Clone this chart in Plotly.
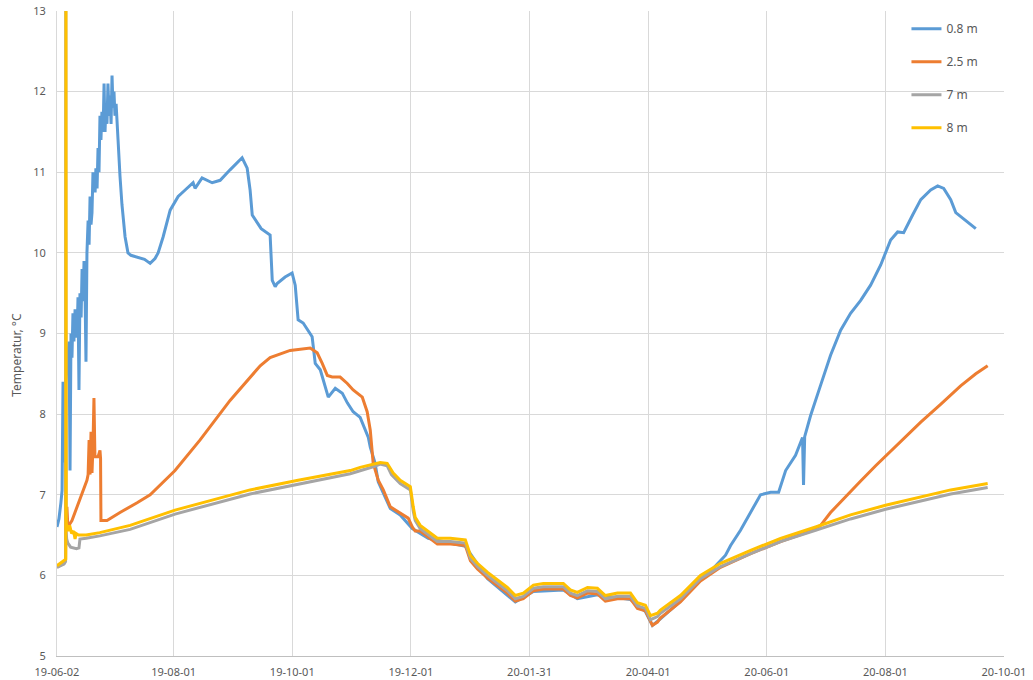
import pandas as pd
import plotly.graph_objects as go

START = pd.Timestamp("2019-06-02")

# ---- data (days since 2019-06-02, temperature in °C) ----
blue_days = [0, 1.0, 2.0, 2.6, 3.1, 3.4, 4.1, 5.1, 6.2, 6.7, 7.2, 7.7, 8.2, 8.7, 9.3, 10.3, 10.8, 11.3,
             11.8, 12.4, 12.9, 13.4, 13.9, 14.4, 14.9, 15.4, 16.0, 16.5, 17.0, 17.5, 18.0, 18.5, 19.6,
             20.0, 20.6, 21.1, 21.6, 22.1, 22.6, 23.1, 23.7, 24.2, 24.7, 25.2, 25.7, 26.2, 26.8, 27.3,
             27.8, 28.3, 28.8, 29.3, 29.8, 30.4, 30.9, 31.4, 32.4, 33.4, 35.0, 36.5, 38, 41, 45, 47.9,
             50.4, 52, 54.6, 58.2, 62.3, 65.9, 70.0, 71.0, 74.6, 79.8, 83.9, 89.0, 95.2, 97.8, 99.3,
             100.4, 102.9, 105, 109.6, 110.7, 112.2, 113.2, 117.3, 120.9, 122.5, 124, 126.6, 131.2,
             132.8, 135.4, 139.5, 143.1, 146.7, 149.3, 152.3, 155.9, 160.1, 161.1, 163.5, 165.2, 171.4,
             176.5, 182.7, 190.9, 210, 221.3, 235.7, 245, 260.4, 267.6, 277.9, 294.9, 302.6, 306.2,
             310.3, 320.6, 330.9, 338, 343.8, 346.4, 351.5, 356.7, 361.8, 367, 371.1, 374.7, 379.8,
             383.4, 383.9, 384.5, 387.5, 392.7, 397.8, 403, 408.1, 413.3, 418.4, 423.6, 428.7, 432.3,
             435.4, 440, 444.2, 449.3, 452.9, 456, 459.6, 462.2, 467.3, 472.5]
blue_vals = [6.60, 6.70, 6.90, 7.05, 8.40, 7.40, 8.30, 8.55, 8.90, 7.30, 9.00, 8.70, 9.25, 8.90, 9.30,
             8.95, 9.45, 8.30, 9.50, 9.20, 9.80, 9.40, 9.90, 9.55, 8.65, 10.00, 10.40, 10.10, 10.70,
             10.35, 10.50, 11.00, 10.75, 11.05, 10.80, 11.30, 11.00, 11.70, 11.40, 11.75, 11.50, 12.10,
             11.50, 11.85, 11.60, 12.10, 11.70, 11.95, 11.60, 12.20, 11.80, 12.00, 11.70, 11.85, 11.55,
             11.40, 10.95, 10.60, 10.20, 10.00, 9.97, 9.95, 9.92, 9.87, 9.93, 10.00, 10.20, 10.53,
             10.70, 10.78, 10.87, 10.80, 10.93, 10.87, 10.90, 11.03, 11.18, 11.05, 10.78, 10.47, 10.37,
             10.30, 10.22, 9.66, 9.58, 9.62, 9.70, 9.75, 9.60, 9.17, 9.13, 8.96, 8.63, 8.55, 8.21, 8.32,
             8.26, 8.14, 8.03, 7.96, 7.71, 7.59, 7.40, 7.16, 6.83, 6.75, 6.58, 6.46, 6.36, 5.96, 5.67,
             5.80, 5.82, 5.71, 5.76, 5.70, 5.55, 5.38, 5.46, 5.68, 5.95, 6.10, 6.25, 6.37, 6.56, 6.78,
             7.00, 7.03, 7.03, 7.30, 7.49, 7.71, 7.12, 7.72, 7.98, 8.36, 8.73, 9.04, 9.25, 9.41, 9.60,
             9.85, 10.16, 10.26, 10.25, 10.47, 10.66, 10.78, 10.83, 10.80, 10.66, 10.50, 10.40, 10.30]

orange_days = [0, 3.6, 4.4, 4.6, 5.1, 5.6, 7.7, 10.3, 12.9, 15.4, 16.0, 16.5, 17.0, 17.5, 18.0, 18.5,
               19.0, 19.5, 21.1, 22.1, 22.4, 22.6, 25.7, 32.4, 41.2, 47.9, 60.7, 73.6, 89.0, 99.3,
               104.5, 109.6, 119.9, 130.2, 133.8, 136.4, 139, 141.5, 145.6, 149.3, 152.3, 157, 159.5,
               161.1, 162.6, 165.2, 167.8, 171.4, 176.5, 180.6, 182.7, 184.2, 186.8, 190.9, 195.6,
               202.3, 210, 212.6, 216.2, 221.3, 226.5, 231.6, 235.7, 239.8, 245, 250.1, 260.4, 264,
               267.6, 272.8, 277.9, 282, 288.2, 294.9, 298.5, 302.6, 306.2, 308.8, 310.3, 320.6, 330.9,
               341.2, 356.7, 372.1, 387.5, 392.7, 397.8, 405.6, 413.3, 421, 426.1, 433.9, 444.2, 454.4,
               464.7, 472.5, 478.6]
orange_vals = [6.10, 6.15, 6.20, 6.70, 6.85, 6.60, 6.68, 6.85, 7.02, 7.18, 7.25, 7.68, 7.25, 7.78, 7.27,
               7.60, 8.20, 7.47, 7.47, 7.55, 7.45, 6.68, 6.68, 6.78, 6.90, 7.00, 7.30, 7.68, 8.17, 8.46,
               8.60, 8.70, 8.79, 8.82, 8.76, 8.63, 8.48, 8.46, 8.46, 8.38, 8.30, 8.21, 8.03, 7.80, 7.39,
               7.18, 7.06, 6.85, 6.77, 6.71, 6.60, 6.55, 6.55, 6.47, 6.39, 6.39, 6.37, 6.18, 6.08, 5.97,
               5.87, 5.78, 5.68, 5.71, 5.81, 5.83, 5.83, 5.75, 5.72, 5.78, 5.77, 5.68, 5.71, 5.71, 5.59,
               5.56, 5.38, 5.42, 5.47, 5.67, 5.93, 6.10, 6.27, 6.42, 6.55, 6.62, 6.78, 6.97, 7.17, 7.36,
               7.48, 7.67, 7.90, 8.12, 8.35, 8.50, 8.60]

gray_days = [0, 3.6, 4.4, 4.5, 4.65, 5.0, 5.6, 7, 10, 11.3, 11.8, 15, 22, 37.6, 60.7, 99.3, 124, 150.8,
             163, 166.2, 169.8, 172, 176.5, 181.7, 183.2, 184.2, 186.8, 190.9, 195.6, 202.3, 210, 212.6,
             216.2, 221.3, 226.5, 231.6, 235.7, 239.8, 245, 250.1, 260.4, 264, 267.6, 272.8, 277.9, 282,
             288.2, 294.9, 298.5, 302.6, 305.2, 308.8, 310.3, 320.6, 330.9, 341.2, 356.7, 372.1, 390.1,
             408.1, 426.1, 444.2, 459.6, 478.6]
gray_vals = [6.10, 6.14, 6.17, 14.0, 6.55, 6.45, 6.40, 6.35, 6.33, 6.34, 6.45, 6.46, 6.49, 6.57, 6.76,
             7.01, 7.13, 7.26, 7.35, 7.38, 7.36, 7.25, 7.14, 7.06, 6.80, 6.68, 6.58, 6.50, 6.42, 6.42,
             6.40, 6.21, 6.11, 6.00, 5.90, 5.81, 5.71, 5.74, 5.84, 5.86, 5.86, 5.78, 5.75, 5.81, 5.80,
             5.71, 5.74, 5.74, 5.62, 5.59, 5.45, 5.49, 5.53, 5.71, 5.96, 6.11, 6.27, 6.42, 6.56, 6.70,
             6.82, 6.92, 7.01, 7.09]

yellow_days = [0, 3.6, 4.5, 4.6, 4.75, 5.6, 6.5, 7.5, 8.5, 9.3, 9.8, 11, 15, 22, 37.6, 60.7, 99.3, 124,
               150.8, 155.9, 166.2, 169.8, 172.9, 176.5, 181.7, 183.2, 184.2, 186.8, 190.9, 195.6, 202.3,
               210, 212.6, 216.2, 221.3, 226.5, 231.6, 235.7, 239.8, 245, 250.1, 260.4, 264, 267.6,
               272.8, 277.9, 282, 288.2, 294.9, 298.5, 302.6, 305.2, 308.8, 310.3, 320.6, 330.9, 341.2,
               356.7, 372.1, 390.1, 408.1, 426.1, 444.2, 459.6, 478.6]
yellow_vals = [6.12, 6.18, 6.20, 14.0, 6.65, 6.55, 6.62, 6.52, 6.55, 6.45, 6.52, 6.50, 6.50, 6.53, 6.62,
               6.81, 7.06, 7.18, 7.30, 7.34, 7.40, 7.39, 7.27, 7.18, 7.10, 6.85, 6.72, 6.62, 6.54, 6.46,
               6.46, 6.44, 6.25, 6.15, 6.04, 5.94, 5.85, 5.75, 5.78, 5.88, 5.90, 5.90, 5.82, 5.79, 5.85,
               5.84, 5.75, 5.78, 5.78, 5.66, 5.63, 5.50, 5.53, 5.57, 5.75, 6.00, 6.15, 6.31, 6.46, 6.60,
               6.75, 6.87, 6.97, 7.06, 7.14]

series_names = ["0.8 m", "2.5 m", "7 m", "8 m"]
series_colors = ["#5B9BD5", "#ED7D31", "#A5A5A5", "#FFC000"]

tick_dates = ["2019-06-02", "2019-08-01", "2019-10-01", "2019-12-01", "2020-01-31",
              "2020-04-01", "2020-06-01", "2020-08-01", "2020-10-01"]
tick_labels = ["19-06-02", "19-08-01", "19-10-01", "19-12-01", "20-01-31",
               "20-04-01", "20-06-01", "20-08-01", "20-10-01"]


def to_dates(days):
    return START + pd.to_timedelta(days, unit="D")


fig = go.Figure()
all_series = [(blue_days, blue_vals), (orange_days, orange_vals),
              (gray_days, gray_vals), (yellow_days, yellow_vals)]
for (d, v), name, color in zip(all_series, series_names, series_colors):
    fig.add_trace(go.Scatter(
        x=to_dates(d), y=v, mode="lines", name=name, legendgroup=name,
        line=dict(color=color, width=3), cliponaxis=True,
    ))

grid = "#D9D9D9"
fig.update_layout(
    width=1033, height=680,
    margin=dict(l=57, r=29, t=11, b=24, autoexpand=False),
    paper_bgcolor="white", plot_bgcolor="white",
    font=dict(family="Noto Sans, Open Sans, sans-serif", size=11, color="#595959"),
    xaxis=dict(
        type="date", range=["2019-06-02", "2020-10-01"],
        tickvals=tick_dates, ticktext=tick_labels,
        showgrid=True, gridcolor=grid, gridwidth=1,
        showline=True, linecolor="#BFBFBF", linewidth=1,
        ticks="outside", ticklen=6, tickcolor="rgba(0,0,0,0)",
        tickfont=dict(size=11, color="#595959"), zeroline=False, automargin=False,
    ),
    yaxis=dict(
        range=[5, 13], dtick=1, tick0=5,
        showgrid=True, gridcolor=grid, gridwidth=1,
        showline=True, linecolor="#D9D9D9", linewidth=1,
        ticks="outside", ticklen=8, tickcolor="rgba(0,0,0,0)",
        tickfont=dict(size=11, color="#595959"), zeroline=False, automargin=False,
    ),
    legend=dict(
        x=0.897, y=0.995, xanchor="left", yanchor="top",
        bgcolor="rgba(0,0,0,0)", borderwidth=0,
        font=dict(size=12, color="#595959"),
        traceorder="grouped", tracegroupgap=14, itemwidth=30,
    ),
    showlegend=True,
    shapes=[dict(type="rect", xref="paper", yref="paper", x0=0.8765, x1=0.999,
                 y0=0.772, y1=0.999, fillcolor="white", line=dict(width=0), layer="between")],
    annotations=[dict(text="Temperatur, °C", xref="paper", yref="paper", x=0, y=0.467,
                      xanchor="center", yanchor="middle",
                      xshift=-40, textangle=-90, showarrow=False,
                      font=dict(size=12, color="#595959"))],
)

fig.write_html("out.html", config={"displayModeBar": False})

# remove the browser's default page margin so the figure sits at the window's top-left corner
with open("out.html", encoding="utf-8") as f:
    html = f.read()
html = html.replace("<head>", "<head><style>html,body{margin:0;padding:0;overflow:hidden;}</style>", 1)
with open("out.html", "w", encoding="utf-8") as f:
    f.write(html)
